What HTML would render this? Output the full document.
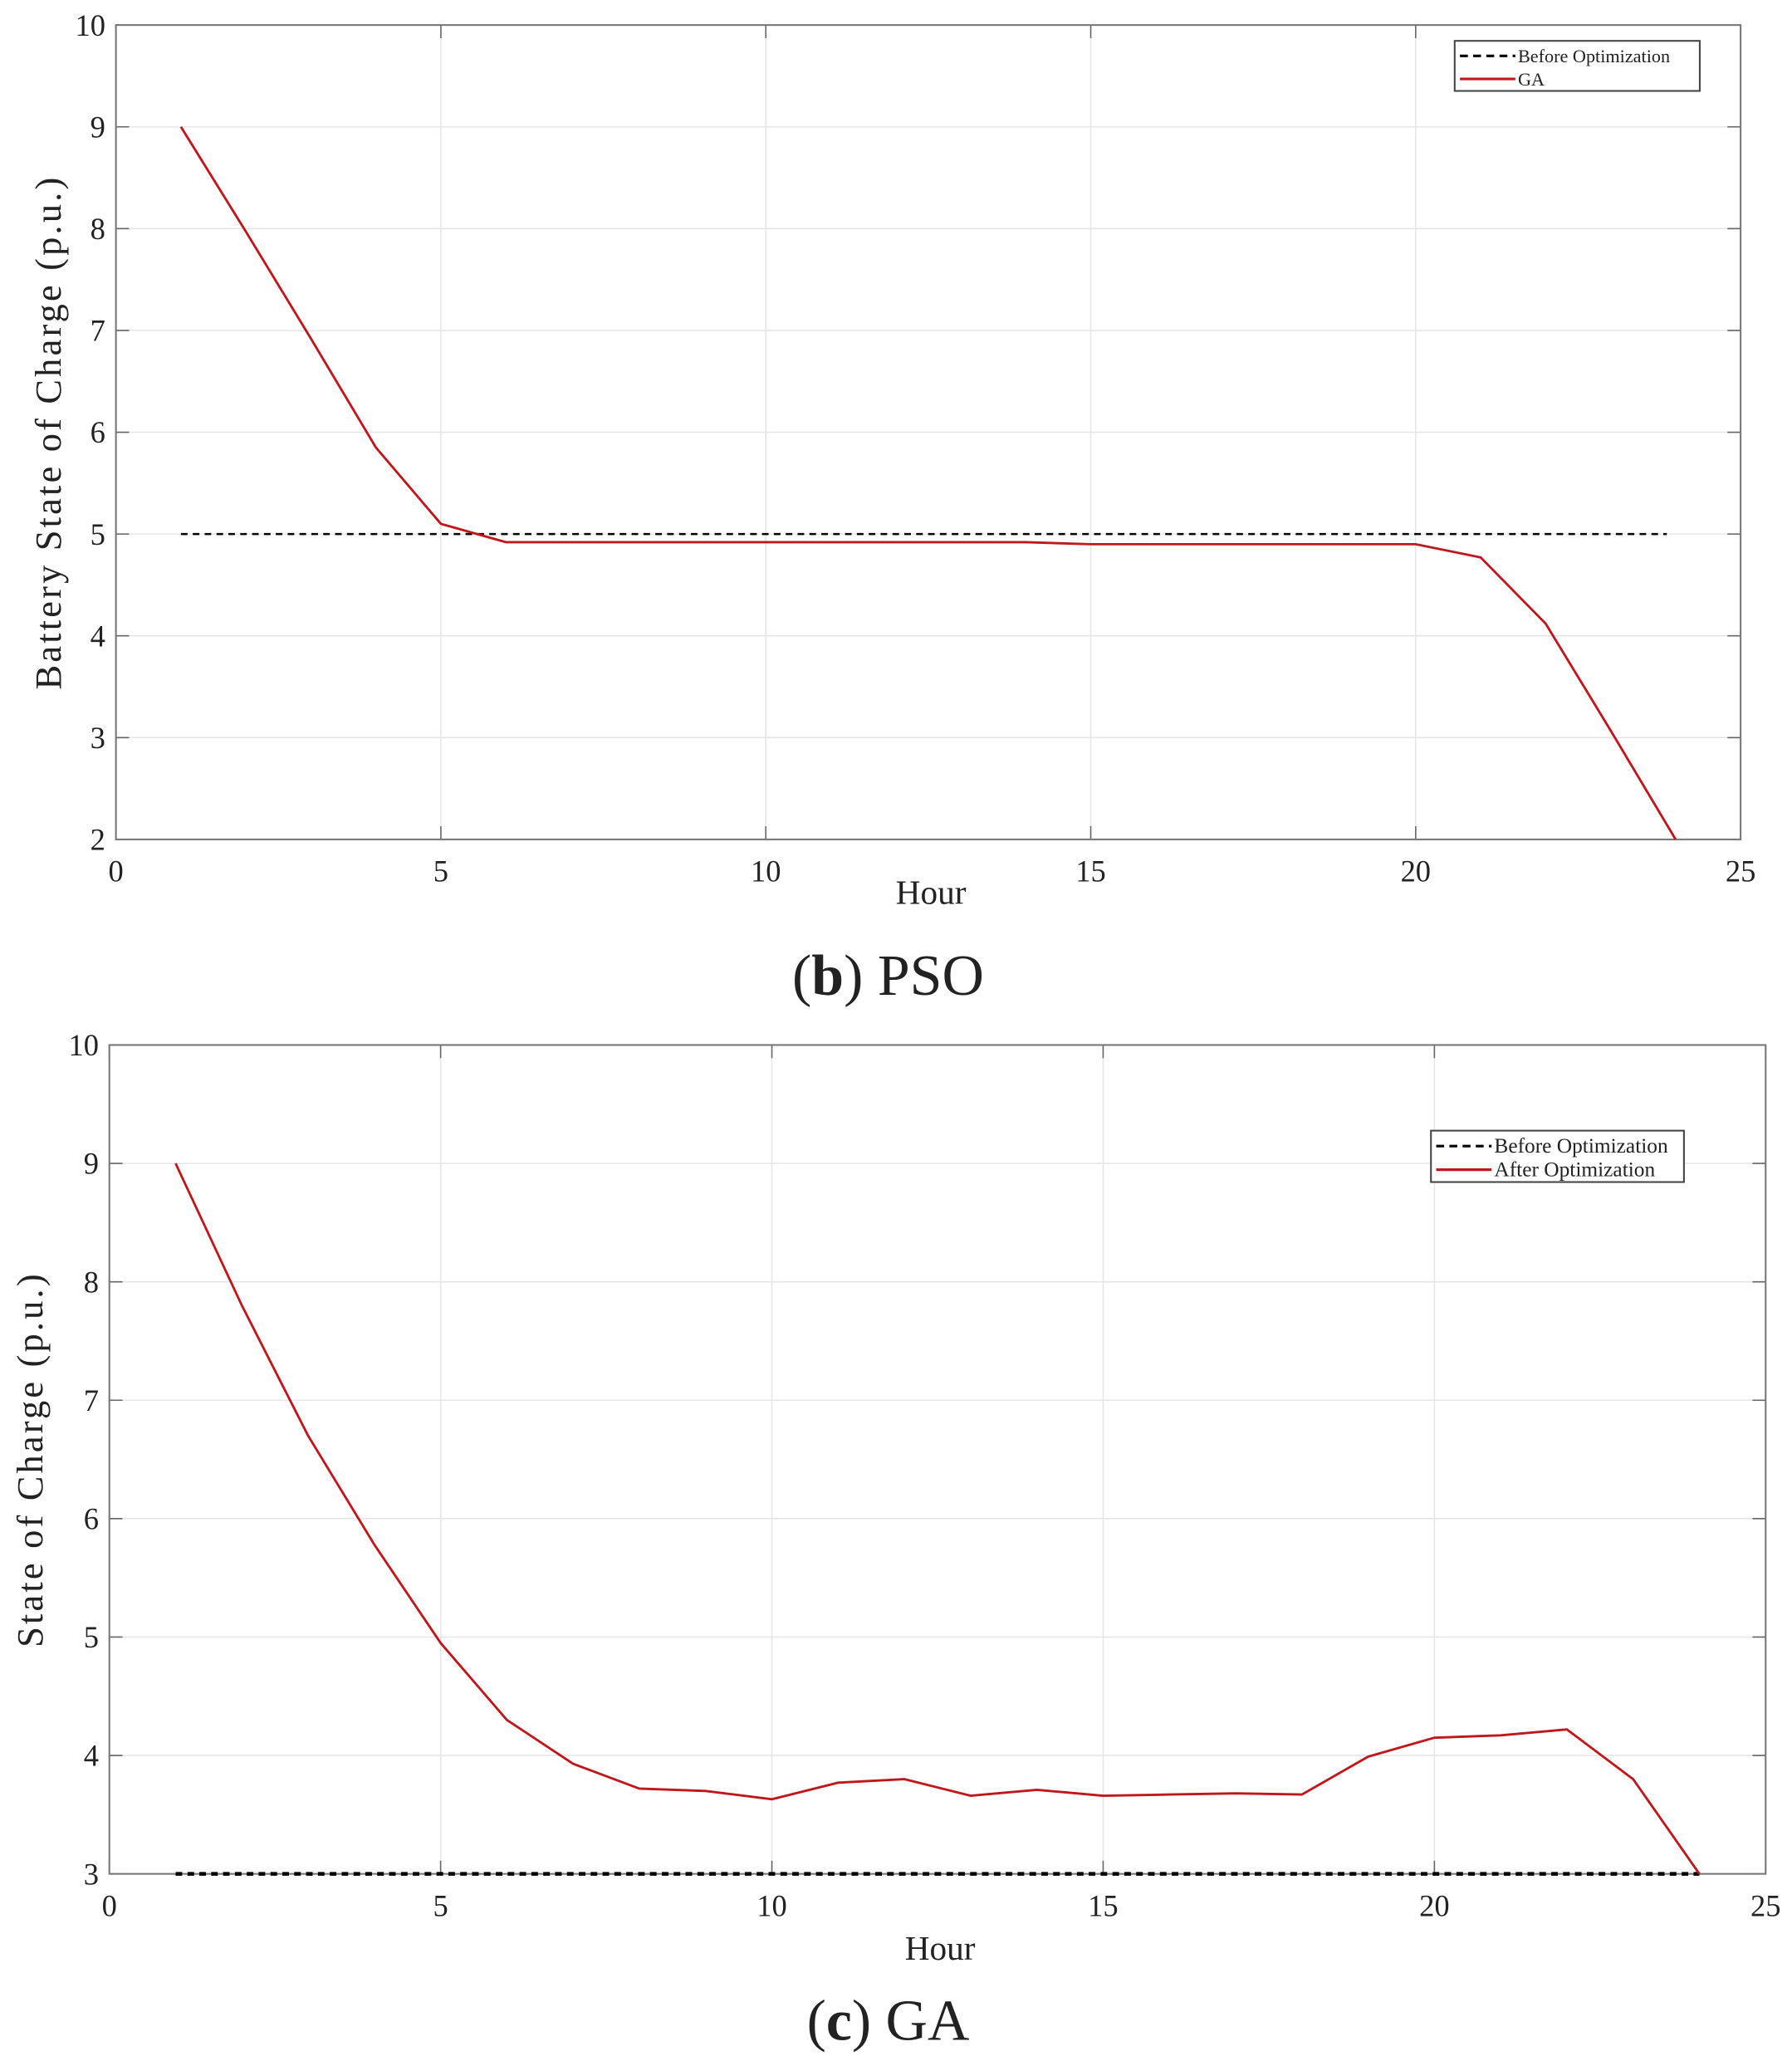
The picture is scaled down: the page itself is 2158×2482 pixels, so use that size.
<!DOCTYPE html>
<html><head><meta charset="utf-8"><style>
html,body{margin:0;padding:0;background:#fff}
svg{display:block}
text{font-family:"Liberation Serif",serif;fill:#222}
</style></head><body>
<svg id="root" width="2158" height="2482" viewBox="0 0 1360 1564" preserveAspectRatio="none" xmlns="http://www.w3.org/2000/svg">
<g id="c1"></g>
<g id="c2"></g>
<text x="674" y="755" font-size="44" text-anchor="middle">(<tspan font-weight="bold">b</tspan>) PSO</text>
<text x="674" y="1548" font-size="44" text-anchor="middle">(<tspan font-weight="bold">c</tspan>) GA</text>
</svg>
<script>
const hours = [1,2,3,4,5,6,7,8,9,10,11,12,13,14,15,16,17,18,19,20,21,22,23,24];
const psoBefore = [5,5,5,5,5,5,5,5,5,5,5,5,5,5,5,5,5,5,5,5,5,5,5,5];
const psoAfter = [9,7.97,6.92,5.85,5.1,4.92,4.92,4.92,4.92,4.92,4.92,4.92,4.92,4.92,4.9,4.9,4.9,4.9,4.9,4.9,4.77,4.12,3.07,2.0];
const gaBefore = [3,3,3,3,3,3,3,3,3,3,3,3,3,3,3,3,3,3,3,3,3,3,3,3];
const gaAfter = [9,7.8,6.7,5.78,4.95,4.3,3.93,3.72,3.7,3.63,3.77,3.8,3.66,3.71,3.66,3.67,3.68,3.67,3.99,4.15,4.17,4.22,3.8,3.0];
const xTicks = [0,5,10,15,20,25];
const psoYTicks = [2,3,4,5,6,7,8,9,10];
const gaYTicks = [3,4,5,6,7,8,9,10];
const NS='http://www.w3.org/2000/svg';
function mk(parent,tag,attrs){const e=document.createElementNS(NS,tag);for(const k in attrs)e.setAttribute(k,attrs[k]);parent.appendChild(e);return e;}
function chart(g,box,ymin,ymax,yTicks,before,after,ylabel,ylabX,leg,names,lastX,dashW,dashEnd){
  const sx=v=>box.l+(v-0)/(25-0)*(box.r-box.l);
  const sy=v=>box.b-(v-ymin)/(ymax-ymin)*(box.b-box.t);
  xTicks.forEach(t=>{
    const l=mk(g,'line',{x1:sx(t),x2:sx(t),y1:box.t,y2:box.b,stroke:'#e6e6e6','stroke-width':1});
    
    
    mk(g,'line',{x1:sx(t),x2:sx(t),y1:box.b,y2:box.b-10,stroke:'#666','stroke-width':1});
    mk(g,'line',{x1:sx(t),x2:sx(t),y1:box.t,y2:box.t+10,stroke:'#666','stroke-width':1});
    const tx=mk(g,'text',{x:sx(t),y:box.b+32,'font-size':23,'text-anchor':'middle'});
    
    
    tx.textContent=t;
  });
  yTicks.forEach(t=>{
    const l=mk(g,'line',{x1:box.l,x2:box.r,y1:sy(t),y2:sy(t),stroke:'#e6e6e6','stroke-width':1});
    
    
    mk(g,'line',{x1:box.l,x2:box.l+10,y1:sy(t),y2:sy(t),stroke:'#666','stroke-width':1});
    mk(g,'line',{x1:box.r,x2:box.r-10,y1:sy(t),y2:sy(t),stroke:'#666','stroke-width':1});
    const tx=mk(g,'text',{x:box.l-8,y:sy(t)+8,'font-size':23,'text-anchor':'end'});
    
    
    tx.textContent=t;
  });
  const fr=mk(g,'rect',{x:box.l,y:box.t,width:box.r-box.l,height:box.b-box.t,fill:'none',stroke:'#777','stroke-width':1.3});
  
  
  const bp=mk(g,'path',{d:hours.map((h,i)=>(i?'L':'M')+Math.min(sx(h),dashEnd)+' '+sy(before[i])).join(''),fill:'none',stroke:'#000','stroke-width':dashW,'stroke-dasharray':'5 4'});
  
  
  const ap=mk(g,'path',{d:hours.map((h,i)=>(i?'L':'M')+sx(h)+' '+sy(after[i])).join(''),fill:'none',stroke:'#c0171c','stroke-width':1.8});
  
  
  const yl=mk(g,'text',{x:ylabX,y:(box.t+box.b)/2,'font-size':28,'letter-spacing':2,'text-anchor':'middle',transform:`rotate(-90 ${ylabX} ${(box.t+box.b)/2})`});
  
  
  yl.textContent=ylabel;
  const xl=mk(g,'text',{x:(box.l+box.r)/2+2,y:box.b+lastX,'font-size':26,'text-anchor':'middle'});
  
  
  xl.textContent='Hour';
  const lg=mk(g,'g',{});
  
  
  mk(lg,'rect',{x:leg.x,y:leg.y,width:leg.w,height:leg.h,fill:'#fff',stroke:'#444','stroke-width':1.3});
  const r1=leg.y+leg.h*0.3, r2=leg.y+leg.h*0.76;
  mk(lg,'line',{x1:leg.x+4,x2:leg.x+46,y1:r1,y2:r1,stroke:'#000','stroke-width':2,'stroke-dasharray':'6 4'});
  mk(lg,'line',{x1:leg.x+4,x2:leg.x+46,y1:r2,y2:r2,stroke:'#c0171c','stroke-width':2});
  const t1=mk(lg,'text',{x:leg.x+48,y:r1+5,'font-size':leg.fs});
  
  
  t1.textContent=names[0];
  const t2=mk(lg,'text',{x:leg.x+48,y:r2+5,'font-size':leg.fs});
  
  
  t2.textContent=names[1];
}
chart(document.getElementById('c1'),{l:88,r:1321,t:19,b:637},2,10,psoYTicks,psoBefore,psoAfter,'Battery State of Charge (p.u.)',46,{x:1104,y:31,w:186,h:38,fs:14},['Before Optimization','GA'],49,1.6,1265);
chart(document.getElementById('c2'),{l:83,r:1340,t:793,b:1422},3,10,gaYTicks,gaBefore,gaAfter,'State of Charge (p.u.)',32,{x:1086,y:858,w:192,h:39,fs:16},['Before Optimization','After Optimization'],65,2.8,1300);
</script>
</body></html>
